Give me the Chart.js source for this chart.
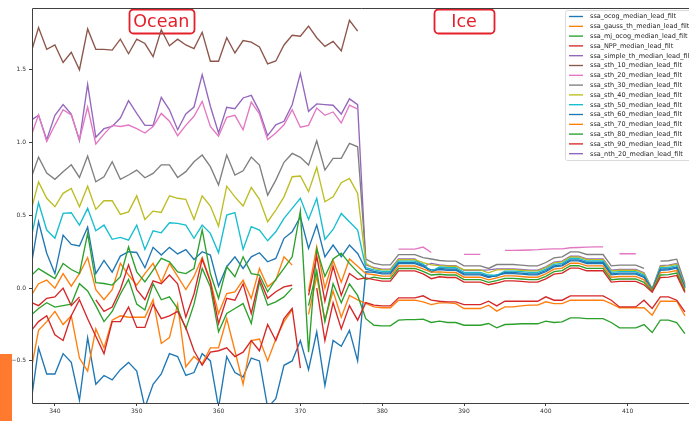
<!DOCTYPE html>
<html>
<head>
<meta charset="utf-8">
<script src="https://cdn.jsdelivr.net/npm/chart.js@4/dist/chart.umd.min.js"></script>
<style>
  html, body { margin: 0; padding: 0; background: #fff; }
  #wrap { position: relative; width: 689px; height: 421px; overflow: hidden; }
  #c { position: absolute; left: 0; top: 0; }
  #tab { position: absolute; left: 0; top: 354px; width: 12px; height: 67px; background: #ff7a2f; }
</style>
</head>
<body>
<div id="wrap">
  <canvas id="c" width="689" height="421"></canvas>
  <div id="tab"></div>
</div>
<script>
// Cycle numbers along the x axis
const cycles = [
  337, 338, 339, 340, 341, 342, 343, 344, 345, 346, 347, 348, 349, 350, 351, 352, 353, 354, 355, 356,
  357, 358, 359, 360, 361, 362, 363, 364, 365, 366, 367, 368, 369, 370, 371, 372, 373, 374, 375, 376,
  377, 378, 379, 380, 381, 382, 383, 384, 385, 386, 387, 388, 389, 390, 391, 392, 393, 394, 395, 396,
  397, 398, 399, 400, 401, 402, 403, 404, 405, 406, 407, 408, 409, 410, 411, 412, 413, 414, 415, 416, 417
];

// Median SSA per cycle for each retracker (first 41 values: open ocean, then sea ice)
const ssa_ocog = [
  -0.82, -0.41, -0.59, -0.59, -0.45, -0.51, -0.77, -0.34, -0.66, -0.60, -0.63, -0.56, -0.51, -0.57, -0.82, -0.66, -0.59, -0.45, -0.47, -0.60,
  -0.58, -0.45, -0.50, -0.82, -0.47, -0.58, -0.61, -0.48, -0.50, -0.82, -0.76, -0.53, -0.50, -0.36, -0.56, -0.30, -0.67, -0.36, -0.40, -0.29,
  -0.50,
  0.112, 0.108, 0.098, 0.098, 0.168, 0.168, 0.168, 0.148, 0.125, 0.128, 0.123, 0.123, 0.091, 0.091, 0.091, 0.073, 0.09, 0.10, 0.10, 0.096,
  0.091, 0.091, 0.114, 0.146, 0.153, 0.187, 0.187, 0.169, 0.169, 0.169, 0.091, 0.096, 0.096, 0.096, 0.073, -0.015, 0.123, 0.126, 0.137, 0.0
];
const ssa_gauss_th = [
  -0.59, -0.29, -0.23, -0.16, -0.25, -0.19, -0.48, -0.57, -0.28, -0.41, -0.22, -0.19, -0.20, -0.20, -0.20, -0.08, -0.38, -0.34, -0.11, -0.54,
  -0.47, -0.52, -0.41, -0.41, -0.21, -0.43, -0.66, -0.36, -0.35, -0.50, -0.35, -0.23, -0.15, null, -0.18, 0.08, -0.22, -0.02, -0.20, -0.05,
  -0.08,
  -0.105, -0.129, -0.135, -0.135, -0.083, -0.083, -0.083, -0.094, -0.113, -0.101, -0.101, -0.106, -0.14, -0.14, -0.14, -0.117, -0.158, -0.129, -0.129, -0.122,
  -0.117, -0.117, -0.094, -0.106, -0.106, -0.083, -0.083, -0.083, -0.083, -0.083, -0.106, -0.135, -0.135, -0.135, -0.135, -0.186, -0.09, -0.09, -0.09, -0.19
];
const ssa_mj_ocog = [
  -0.19, -0.14, -0.10, -0.13, -0.12, -0.11, 0.03, -0.02, -0.12, -0.23, -0.16, -0.04, 0.06, -0.11, -0.15, 0.03, -0.08, -0.06, -0.14, -0.28,
  -0.11, 0.135, 0.009, -0.30, -0.174, -0.14, -0.106, -0.243, 0.043, -0.117, -0.094, -0.06, 0.0, null, -0.12, 0.12, -0.23, 0.03, -0.10, 0.03,
  -0.05,
  -0.21, -0.255, -0.259, -0.259, -0.22, -0.216, -0.216, -0.213, -0.236, -0.227, -0.236, -0.236, -0.255, -0.255, -0.255, -0.243, -0.273, -0.25, -0.248, -0.245,
  -0.245, -0.245, -0.227, -0.236, -0.232, -0.204, -0.204, -0.209, -0.209, -0.209, -0.236, -0.273, -0.273, -0.273, -0.25, -0.305, -0.22, -0.22, -0.236, -0.312
];
const ssa_NPP = [
  -0.30, -0.23, -0.19, -0.32, -0.36, -0.19, -0.08, -0.21, -0.33, -0.45, -0.23, -0.23, -0.13, -0.27, -0.27, -0.11, -0.21, -0.19, -0.16, -0.27,
  -0.43, -0.53, -0.44, -0.43, -0.41, -0.47, -0.44, -0.36, -0.43, -0.25, -0.36, -0.21, -0.14, -0.55, null, 0.0, -0.36, -0.10, -0.28, -0.12,
  -0.22,
  -0.10, -0.117, -0.122, -0.122, -0.067, -0.067, -0.067, -0.053, -0.083, -0.09, -0.094, -0.094, -0.113, -0.113, -0.113, -0.09, -0.122, -0.09, -0.09, -0.09,
  -0.09, -0.09, -0.06, -0.083, -0.083, -0.053, -0.053, -0.053, -0.053, -0.053, -0.083, -0.129, -0.129, -0.129, -0.083, -0.14, -0.06, -0.06, -0.083, -0.163
];
const ssa_simple_th = [
  1.15, 1.187, 1.02, 1.187, 1.26, 1.196, 1.012, 1.40, 1.036, 1.095, 1.11, 1.168, 1.287, 1.20, 1.118, 1.118, 1.31, 1.225, 1.088, 1.196,
  1.244, 1.466, 1.249, 1.065, 1.242, 1.232, 1.306, 1.324, 1.214, 1.047, 1.122, 1.146, 1.26, 1.473, 1.214, 1.265, 1.26, 1.256, 1.196, 1.30,
  1.26,
  0.16, 0.14, 0.13, 0.13, 0.20, 0.20, 0.20, 0.15, 0.17, 0.16, 0.155, 0.155, 0.123, 0.123, 0.123, 0.125, 0.132, 0.132, 0.132, 0.128,
  0.123, 0.123, 0.146, 0.178, 0.185, 0.219, 0.219, 0.201, 0.201, 0.201, 0.123, 0.128, 0.128, 0.128, 0.105, -0.005, 0.155, 0.158, 0.169, 0.02
];
const ssa_sth_10 = [
  1.60, 1.79, 1.64, 1.67, 1.55, 1.62, 1.50, 1.78, 1.64, 1.64, 1.635, 1.71, 1.61, 1.71, 1.68, 1.59, 1.775, 1.665, 1.71, 1.67,
  1.645, 1.757, 1.558, 1.558, 1.72, 1.615, 1.70, 1.69, 1.656, 1.54, 1.56, 1.67, 1.737, 1.73, 1.80, 1.72, 1.66, 1.695, 1.63, 1.84,
  1.765,
  null, null, null, null, null, null, null, null, null, null, null, null, null, null, null, null, null, null, null, null,
  null, null, null, null, null, null, null, null, null, null, null, null, null, null, null, null, null, null, null, null
];
const ssa_sth_20 = [
  1.03, 1.19, 1.008, 1.12, 1.225, 1.19, 1.02, 1.244, 0.99, 1.058, 1.118, 1.11, 1.12, 1.095, 1.065, 1.11, 1.20, 1.146, 1.047, 1.118,
  1.18, 1.283, 1.11, 1.043, 1.173, 1.187, 1.088, 1.278, 1.196, 1.02, 1.065, 1.122, 1.225, 1.105, 1.118, 1.237, 1.187, 1.21, 1.134, 1.256,
  1.23,
  null, null, null, null, 0.268, 0.268, 0.268, 0.282, 0.245, null, null, null, 0.232, 0.232, 0.232, null, null, 0.259, 0.259, 0.26,
  0.262, 0.264, 0.268, 0.27, 0.27, 0.277, 0.279, 0.282, 0.283, 0.283, null, 0.236, 0.236, 0.236, null, null, null, null, null, null
];
const ssa_sth_30 = [
  0.742, 0.90, 0.79, 0.747, 0.80, 0.847, 0.76, 0.907, 0.73, 0.765, 0.868, 0.747, 0.777, 0.811, 0.758, 0.788, 0.847, 0.847, 0.76, 0.80,
  0.868, 0.914, 0.834, 0.708, 0.914, 0.777, 0.806, 0.90, 0.845, 0.639, 0.742, 0.864, 0.925, 0.898, 0.845, 1.012, 0.811, 0.891, 0.891, 0.994,
  0.971,
  0.20, 0.17, 0.16, 0.16, 0.23, 0.23, 0.23, 0.21, 0.20, 0.19, 0.185, 0.185, 0.153, 0.153, 0.153, 0.135, 0.162, 0.162, 0.162, 0.158,
  0.153, 0.153, 0.176, 0.208, 0.215, 0.249, 0.249, 0.231, 0.231, 0.231, 0.153, 0.158, 0.158, 0.158, 0.135, null, 0.185, 0.188, 0.199, 0.03
];
const ssa_sth_40 = [
  0.513, 0.73, 0.617, 0.559, 0.651, 0.685, 0.559, 0.70, 0.541, 0.60, 0.60, 0.506, 0.524, 0.634, 0.472, 0.529, 0.52, 0.634, 0.617, 0.61,
  0.472, 0.634, 0.564, 0.426, 0.70, 0.627, 0.564, 0.692, 0.61, 0.456, 0.536, 0.627, 0.765, 0.77, 0.663, 0.829, 0.593, 0.627, 0.724, 0.754,
  0.651,
  0.17, 0.135, 0.125, 0.125, 0.195, 0.195, 0.195, 0.175, 0.16, 0.155, 0.15, 0.15, 0.125, 0.125, 0.125, 0.105, 0.125, 0.127, 0.127, 0.123,
  0.118, 0.118, 0.141, 0.173, 0.18, 0.214, 0.214, 0.196, 0.196, 0.196, 0.118, 0.123, 0.123, 0.123, 0.10, -0.008, 0.15, 0.153, 0.164, 0.015
];
const ssa_sth_50 = [
  0.318, 0.586, 0.399, 0.342, 0.513, 0.518, 0.433, 0.548, 0.394, 0.433, 0.335, 0.348, 0.33, 0.433, 0.266, 0.394, 0.38, 0.449, 0.445, 0.433,
  0.342, 0.433, 0.376, 0.243, 0.502, 0.518, 0.266, 0.422, 0.399, 0.325, 0.387, 0.479, 0.548, 0.617, 0.472, 0.617, 0.335, 0.403, 0.513, 0.456,
  0.399,
  0.14, 0.125, 0.115, 0.115, 0.185, 0.185, 0.185, 0.165, 0.115, 0.145, 0.14, 0.14, 0.108, 0.108, 0.108, 0.09, 0.087, 0.117, 0.117, 0.113,
  0.108, 0.108, 0.131, 0.163, 0.17, 0.204, 0.204, 0.186, 0.186, 0.186, 0.108, 0.113, 0.113, 0.113, 0.09, -0.01, 0.14, 0.143, 0.154, 0.01
];
const ssa_sth_60 = [
  0.12, 0.456, 0.24, 0.10, 0.364, 0.30, 0.29, 0.42, 0.10, 0.19, 0.11, 0.22, 0.25, 0.245, 0.14, 0.28, 0.227, 0.28, 0.235, 0.265,
  0.197, 0.25, 0.227, 0.014, 0.147, 0.215, 0.135, 0.215, 0.243, 0.181, 0.204, 0.342, 0.387, 0.49, 0.273, 0.433, 0.215, 0.296, 0.215, 0.296,
  0.238,
  0.13, 0.115, 0.105, 0.105, 0.175, 0.175, 0.175, 0.155, 0.11, 0.135, 0.13, 0.13, 0.098, 0.098, 0.098, 0.08, 0.082, 0.107, 0.107, 0.103,
  0.098, 0.098, 0.121, 0.153, 0.16, 0.194, 0.194, 0.176, 0.176, 0.176, 0.098, 0.103, 0.103, 0.103, 0.08, -0.012, 0.13, 0.133, 0.144, 0.005
];
const ssa_sth_70 = [
  -0.06, 0.03, 0.055, 0.0, 0.10, 0.013, 0.10, 0.21, -0.01, -0.08, -0.01, 0.17, 0.09, 0.02, 0.10, 0.17, 0.04, 0.17, 0.08, -0.01,
  0.08, 0.21, 0.05, -0.175, -0.037, -0.026, 0.055, -0.071, 0.135, 0.009, 0.055, 0.215, 0.158, null, -0.02, 0.284, 0.0, 0.19, 0.04, 0.20,
  0.15,
  0.10, 0.092, 0.082, 0.082, 0.152, 0.152, 0.152, 0.132, 0.11, 0.112, 0.107, 0.107, 0.075, 0.075, 0.075, 0.057, 0.07, 0.084, 0.084, 0.08,
  0.075, 0.075, 0.098, 0.13, 0.137, 0.171, 0.171, 0.153, 0.153, 0.153, 0.075, 0.08, 0.08, 0.08, 0.057, -0.018, 0.107, 0.11, 0.121, -0.01
];
const ssa_sth_80 = [
  0.08, 0.134, 0.10, 0.065, 0.169, 0.128, 0.10, 0.376, 0.037, 0.032, 0.021, 0.078, 0.284, 0.112, 0.043, 0.124, 0.204, 0.181, 0.112, 0.10,
  0.135, 0.40, 0.10, -0.07, 0.147, 0.078, 0.215, 0.10, 0.09, -0.025, 0.06, 0.135, 0.215, 0.53, -0.44, 0.27, 0.08, 0.20, 0.24, 0.17,
  0.11,
  0.06, 0.075, 0.065, 0.065, 0.135, 0.135, 0.135, 0.115, 0.09, 0.095, 0.09, 0.09, 0.058, 0.058, 0.058, 0.04, 0.052, 0.067, 0.067, 0.063,
  0.058, 0.058, 0.081, 0.113, 0.12, 0.154, 0.154, 0.136, 0.136, 0.136, 0.058, 0.063, 0.063, 0.063, 0.04, -0.022, 0.09, 0.093, 0.104, -0.02
];
const ssa_sth_90 = [
  -0.095, -0.12, -0.07, -0.06, 0.0, -0.12, -0.06, null, -0.08, -0.16, -0.13, -0.01, 0.16, -0.01, -0.08, 0.05, 0.03, 0.09, 0.03, -0.20,
  -0.04, 0.20, 0.043, -0.243, -0.07, -0.083, 0.03, -0.174, 0.066, -0.07, -0.025, 0.009, 0.02, null, -0.05, 0.22, -0.09, 0.15, -0.05, 0.10,
  0.06,
  0.07, 0.058, 0.048, 0.048, 0.118, 0.118, 0.118, 0.098, 0.065, 0.078, 0.073, 0.073, 0.041, 0.041, 0.041, 0.023, 0.035, 0.05, 0.05, 0.046,
  0.041, 0.041, 0.064, 0.096, 0.103, 0.137, 0.137, 0.119, 0.119, 0.119, 0.041, 0.046, 0.046, 0.046, 0.023, -0.028, 0.073, 0.076, 0.087, -0.03
];
const ssa_nth_20 = cycles.map(() => null);

const seriesNames = [
  'ssa_ocog_median_lead_filt', 'ssa_gauss_th_median_lead_filt', 'ssa_mj_ocog_median_lead_filt',
  'ssa_NPP_median_lead_filt', 'ssa_simple_th_median_lead_filt', 'ssa_sth_10_median_lead_filt',
  'ssa_sth_20_median_lead_filt', 'ssa_sth_30_median_lead_filt', 'ssa_sth_40_median_lead_filt',
  'ssa_sth_50_median_lead_filt', 'ssa_sth_60_median_lead_filt', 'ssa_sth_70_median_lead_filt',
  'ssa_sth_80_median_lead_filt', 'ssa_sth_90_median_lead_filt', 'ssa_nth_20_median_lead_filt'
];
const seriesValues = [
  ssa_ocog, ssa_gauss_th, ssa_mj_ocog, ssa_NPP, ssa_simple_th, ssa_sth_10, ssa_sth_20, ssa_sth_30,
  ssa_sth_40, ssa_sth_50, ssa_sth_60, ssa_sth_70, ssa_sth_80, ssa_sth_90, ssa_nth_20
];

// Axis ticks
const xTicks = [340, 350, 360, 370, 380, 390, 400, 410];
const yTicks = [-0.5, 0.0, 0.5, 1.0, 1.5];

// Region labels placed above the curves
const regionLabels = [
  { text: 'Ocean', cycle: 353, width: 65 },
  { text: 'Ice', cycle: 390, width: 60 }
];

const palette = ['#1f77b4', '#ff7f0e', '#2ca02c', '#d62728', '#9467bd',
                 '#8c564b', '#e377c2', '#7f7f7f', '#bcbd22', '#17becf'];

const datasets = seriesNames.map((name, i) => ({
  label: name,
  data: cycles.map((c, k) => ({ x: c, y: seriesValues[i][k] })),
  borderColor: palette[i % palette.length],
  backgroundColor: palette[i % palette.length],
  borderWidth: 1.35,
  pointRadius: 0,
  tension: 0,
  spanGaps: false,
  order: -i
}));

const FONT = '"DejaVu Sans", sans-serif';

const framePlugin = {
  id: 'frame',
  beforeDatasetsDraw(chart) {
    const { ctx, scales } = chart;
    ctx.save();
    regionLabels.forEach(r => {
      const cx = scales.x.getPixelForValue(r.cycle);
      const x = Math.round(cx - r.width / 2) + 0.5, y = 9.5, w = r.width, h = 24, rad = 4;
      ctx.beginPath();
      ctx.roundRect(x, y, w, h, rad);
      ctx.fillStyle = '#ffffff';
      ctx.fill();
      ctx.lineWidth = 1.8;
      ctx.strokeStyle = '#e5202a';
      ctx.stroke();
      ctx.fillStyle = '#e5202a';
      ctx.font = '17.5px ' + FONT;
      ctx.textAlign = 'center';
      ctx.textBaseline = 'middle';
      ctx.fillText(r.text, cx, y + h / 2 + 1);
    });
    ctx.restore();
  },
  afterDraw(chart) {
    const { ctx, chartArea: a } = chart;
    ctx.save();
    // axes spines
    ctx.strokeStyle = '#404040';
    ctx.lineWidth = 1;
    ctx.beginPath();
    ctx.moveTo(a.right + 2, a.top + 0.5);
    ctx.lineTo(a.left + 0.5, a.top + 0.5);
    ctx.lineTo(a.left + 0.5, a.bottom + 0.5);
    ctx.lineTo(a.right + 2, a.bottom + 0.5);
    ctx.stroke();
    // legend
    const lx = 565.5, ly = 10.5, lw = 140, lh = 150;
    ctx.beginPath();
    ctx.roundRect(lx, ly, lw, lh, 2);
    ctx.fillStyle = 'rgba(255,255,255,0.85)';
    ctx.fill();
    ctx.strokeStyle = '#d0d0d0';
    ctx.lineWidth = 0.8;
    ctx.stroke();
    ctx.font = '6.5px ' + FONT;
    ctx.textAlign = 'left';
    ctx.textBaseline = 'middle';
    chart.data.datasets.forEach((ds, i) => {
      const y = 16.5 + i * 9.8;
      ctx.strokeStyle = ds.borderColor;
      ctx.lineWidth = 1.35;
      ctx.beginPath();
      ctx.moveTo(569, y);
      ctx.lineTo(583, y);
      ctx.stroke();
      ctx.fillStyle = '#262626';
      ctx.fillText(ds.label, 590, y + 0.3);
    });
    ctx.restore();
  }
};

new Chart(document.getElementById('c'), {
  type: 'line',
  data: { datasets },
  options: {
    responsive: false,
    animation: false,
    devicePixelRatio: 1,
    layout: { padding: { top: 8, right: 0, left: 0, bottom: 0 } },
    plugins: { legend: { display: false }, tooltip: { enabled: false } },
    scales: {
      x: {
        type: 'linear',
        min: 337.2,
        max: 417.5,
        border: { display: false },
        grid: { drawOnChartArea: false, drawTicks: true, tickLength: 3, color: '#404040' },
        afterBuildTicks: s => { s.ticks = xTicks.map(v => ({ value: v })); },
        afterFit: s => { s.height = 18; s.paddingLeft = 0; s.paddingRight = 0; },
        ticks: {
          padding: 2,
          color: '#333',
          font: { family: FONT, size: 6 },
          maxRotation: 0,
          autoSkip: false,
          callback: v => String(v)
        }
      },
      y: {
        type: 'linear',
        min: -0.789,
        max: 1.924,
        border: { display: false },
        grid: { drawOnChartArea: false, drawTicks: true, tickLength: 3, color: '#404040' },
        afterBuildTicks: s => { s.ticks = yTicks.map(v => ({ value: v })); },
        afterFit: s => { s.width = 32; s.paddingTop = 0; s.paddingBottom = 0; },
        ticks: {
          padding: 3,
          color: '#333',
          font: { family: FONT, size: 6 },
          autoSkip: false,
          callback: v => (v < 0 ? '\u2212' : '') + Math.abs(v).toFixed(1)
        }
      }
    }
  },
  plugins: [framePlugin]
});
</script>
</body>
</html>
